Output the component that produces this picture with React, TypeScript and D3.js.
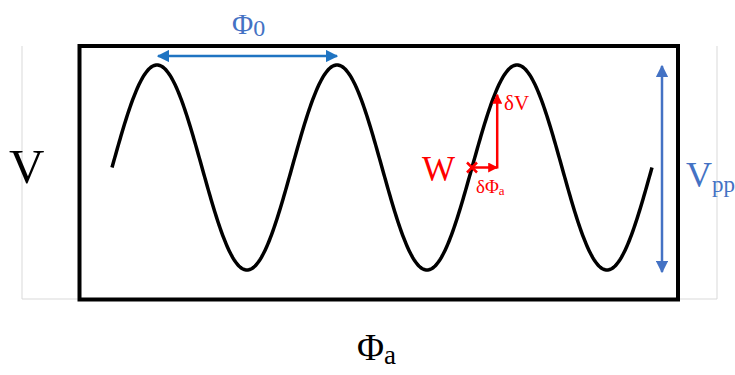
import React from "react";
import * as d3 from "d3";

// Phase span of the trace, in units of the flux period Φ0
const phaseDomain: [number, number] = [0, 3];
// Normalised voltage range (trough, peak)
const voltageDomain: [number, number] = [-1, 1];
// Phase positions of the two peaks joined by the Φ0 arrow
const periodMarks: number[] = [0.25, 1.25];
// Working point W (phase, voltage) and the small-signal steps from it
const workPoint: [number, number] = [2.0, 0];
const deltaPhase: number[] = [0.14];
const deltaVoltage: number[] = [0.71];

const W = 735;
const H = 375;

export default function App() {
  const x = d3.scaleLinear().domain(phaseDomain).range([112, 652]);
  const y = d3.scaleLinear().domain(voltageDomain).range([270, 65]);

  const samples = d3.range(phaseDomain[0], phaseDomain[1] + 1e-9, 0.005);
  const line = d3
    .line<number>()
    .x((p) => x(p))
    .y((p) => y(Math.sin(2 * Math.PI * p)))
    .curve(d3.curveLinear);

  const wx = x(workPoint[0]);
  const wy = y(workPoint[1]);
  const dx = x(workPoint[0] + deltaPhase[0]);
  const dy = y(workPoint[1] + deltaVoltage[0]);

  const serif = "'Liberation Serif', 'DejaVu Serif', serif";
  const blueText = "#4472C4";

  return (
    <svg
      width={W}
      height={H}
      style={{ position: "fixed", left: 0, top: 0, background: "#fff" }}
    >
      <defs>
        <marker id="bArrow" viewBox="0 0 10 10" refX="9" refY="5" markerWidth="5" markerHeight="5" orient="auto-start-reverse">
          <path d="M0,0 L10,5 L0,10 z" fill="#1F74C2" />
        </marker>
        <marker id="vArrow" viewBox="0 0 10 10" refX="9" refY="5" markerWidth="5" markerHeight="5" orient="auto-start-reverse">
          <path d="M0,0 L10,5 L0,10 z" fill={blueText} />
        </marker>
        <marker id="rArrow" viewBox="0 0 10 10" refX="9" refY="5" markerWidth="4" markerHeight="4" orient="auto">
          <path d="M0,0 L10,5 L0,10 z" fill="#FF0000" />
        </marker>
      </defs>

      {/* faint guide lines outside the frame */}
      <g stroke="#D9D9D9" strokeWidth={1} fill="none">
        <path d="M22,46 V299 H78" />
        <path d="M717,46 V299 H680" />
      </g>

      {/* frame */}
      <rect x={79.5} y={46} width={598.5} height={253.5} fill="none" stroke="#000" strokeWidth={4} />

      {/* V(Φa) trace */}
      <path d={line(samples) ?? ""} fill="none" stroke="#000" strokeWidth={3.5} strokeLinecap="butt" />

      {/* Φ0 period arrow */}
      <line
        x1={x(periodMarks[0]) + 1}
        x2={x(periodMarks[1])}
        y1={56}
        y2={56}
        stroke="#1F74C2"
        strokeWidth={2.5}
        markerStart="url(#bArrow)"
        markerEnd="url(#bArrow)"
      />
      <text x={232} y={34} fontFamily={serif} fontSize={29} fill={blueText}>
        Φ<tspan fontSize={24} dy={2}>0</tspan>
      </text>

      {/* Vpp arrow */}
      <line
        x1={662}
        x2={662}
        y1={y(voltageDomain[1]) + 1}
        y2={y(voltageDomain[0]) + 2}
        stroke={blueText}
        strokeWidth={2.5}
        markerStart="url(#vArrow)"
        markerEnd="url(#vArrow)"
      />
      <text x={686} y={187} fontFamily={serif} fontSize={36} fill={blueText}>
        V<tspan fontSize={23} dy={5}>pp</tspan>
      </text>

      {/* axis labels */}
      <text x={9} y={183} fontFamily={serif} fontSize={49} fill="#000">V</text>
      <text x={357} y={360} fontFamily={serif} fontSize={37} fill="#000">
        Φ<tspan fontSize={27} dy={4}>a</tspan>
      </text>

      {/* working point and small-signal steps */}
      <g stroke="#FF0000" strokeWidth={2.5}>
        <line x1={wx - 5} y1={wy - 5} x2={wx + 5} y2={wy + 5} />
        <line x1={wx - 5} y1={wy + 5} x2={wx + 5} y2={wy - 5} />
        <line x1={wx + 2} y1={wy} x2={dx} y2={wy} markerEnd="url(#rArrow)" />
        <line x1={dx} y1={wy + 1} x2={dx} y2={dy} markerEnd="url(#rArrow)" />
      </g>
      <text x={422} y={181} fontFamily={serif} fontSize={35} fill="#FF0000">W</text>
      <text x={504} y={110} fontFamily={serif} fontSize={21} fill="#FF0000">δV</text>
      <text x={476} y={193} fontFamily={serif} fontSize={19} fill="#FF0000">
        δΦ<tspan fontSize={13} dy={2}>a</tspan>
      </text>
    </svg>
  );
}
